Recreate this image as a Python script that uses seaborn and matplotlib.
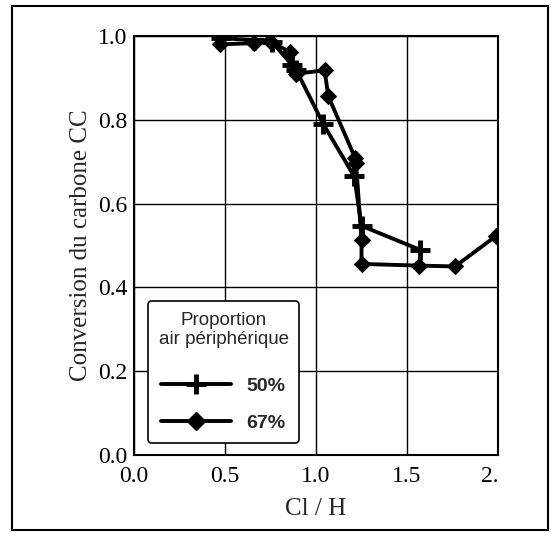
import matplotlib
matplotlib.use("Agg")
import matplotlib.pyplot as plt
import seaborn as sns
import pandas as pd
from matplotlib.patches import Rectangle
from matplotlib.lines import Line2D

# Data
x_50 = [0.48, 0.66, 0.76, 0.87, 0.89, 1.04, 1.21, 1.25, 1.57]
y_50 = [0.995, 0.99, 0.985, 0.93, 0.92, 0.79, 0.665, 0.547, 0.49]
x_67 = [0.47, 0.66, 0.745, 0.855, 0.89, 1.047, 1.068, 1.216, 1.22, 1.25, 1.25, 1.567, 1.764, 1.99]
y_67 = [0.98, 0.983, 0.988, 0.962, 0.91, 0.918, 0.856, 0.708, 0.698, 0.512, 0.456, 0.452, 0.45, 0.523]
series_labels = ["50%", "67%"]
x_ticks = [0.0, 0.5, 1.0, 1.5, 2.0]
x_ticklabels = ["0.0", "0.5", "1.0", "1.5", "2."]
y_ticks = [0.0, 0.2, 0.4, 0.6, 0.8, 1.0]
y_ticklabels = ["0.0", "0.2", "0.4", "0.6", "0.8", "1.0"]

sns.set_style("white")
plt.rcParams['font.family'] = ['Liberation Serif', 'DejaVu Serif']

fig = plt.figure(figsize=(5.59, 5.41), dpi=100)
ax = fig.add_axes([134/559, 1-455/541, (498-134)/559, (455-36)/541])

df50 = pd.DataFrame({"x": x_50, "y": y_50})
df67 = pd.DataFrame({"x": x_67, "y": y_67})
sns.lineplot(data=df50, x="x", y="y", sort=False, estimator=None, ax=ax, color="black", lw=2.8,
             marker="+", markersize=14, markeredgewidth=3.5, markeredgecolor="black", zorder=3)
sns.lineplot(data=df67, x="x", y="y", sort=False, estimator=None, ax=ax, color="black", lw=2.8,
             marker="D", markersize=8.5, markeredgecolor="black", markerfacecolor="black", zorder=3)

ax.set_xlim(0, 2.0)
ax.set_ylim(0, 1.0)
ax.set_xticks(x_ticks)
ax.set_xticklabels(x_ticklabels, fontsize=17)
ax.get_xticklabels()[-1].set_horizontalalignment("right")
ax.set_yticks(y_ticks)
ax.set_yticklabels(y_ticklabels, fontsize=17)
ax.set_xticks([0.25, 0.75, 1.25, 1.75], minor=True)
ax.set_yticks([0.1, 0.3, 0.5, 0.7, 0.9], minor=True)
ax.tick_params(axis="x", which="major", direction="in", length=0, pad=8, colors="black")
ax.tick_params(axis="y", which="major", direction="in", length=0, pad=5, colors="black")
ax.tick_params(axis="both", which="minor", direction="in", length=6, width=1.2, color="black")
ax.grid(True, which="major", color="black", lw=1.0)
for s in ax.spines.values():
    s.set_color("black")
    s.set_linewidth(1.5)

ax.set_xlabel("Cl / H", fontsize=18, labelpad=8)
ax.set_ylabel("Conversion du carbone CC", fontsize=18, labelpad=4)

handles = [
    Line2D([], [], color="black", lw=2.8, marker="+", markersize=14, markeredgewidth=3.5),
    Line2D([], [], color="black", lw=2.8, marker="D", markersize=9),
]
leg = ax.legend(handles, series_labels, title="Proportion\nair périphérique",
                loc="lower left", bbox_to_anchor=(0.038, 0.029), borderaxespad=0,
                frameon=True, fancybox=True,
                handlelength=3.6, handletextpad=0.8, borderpad=0.55, labelspacing=1.0,
                prop={"family": "Liberation Sans", "size": 14, "weight": "bold"},
                title_fontproperties={"family": "Liberation Sans", "size": 13.5})
leg.get_frame().set_edgecolor("black")
leg.get_frame().set_linewidth(1.2)
leg.get_frame().set_alpha(1)
leg.get_title().set_multialignment("center")
leg.get_title().set_linespacing(1.2)
leg._legend_box.sep = 21

fig.patches.append(Rectangle((12/559, 1-530/541), (548-12)/559, (530-6)/541,
                             transform=fig.transFigure, fill=False, edgecolor="black", lw=1.5))

fig.savefig("out.png", dpi=100)
